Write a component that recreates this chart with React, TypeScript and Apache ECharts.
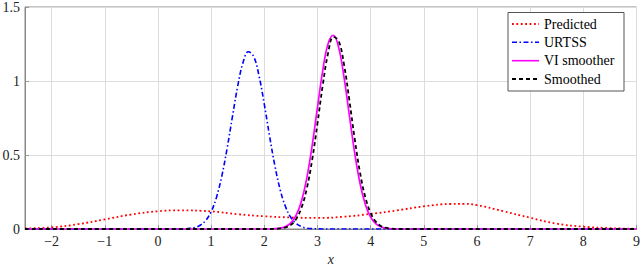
import React, { useEffect, useRef } from "react";
import * as echarts from "echarts";

const xTicks = [-2, -1, 0, 1, 2, 3, 4, 5, 6, 7, 8, 9];
const yTicks = [0, 0.5, 1, 1.5];

const legendNames = ["Predicted", "URTSS", "VI smoother", "Smoothed"];

const predX = [-2.5, -2, -1.5, -1, -0.5, 0, 0.4, 1, 1.5, 2, 2.5, 3, 3.5, 4, 4.5, 5, 5.5, 5.75, 6, 6.5, 7, 7.5, 8, 8.5, 9];
const predY = [0.004, 0.011, 0.033, 0.065, 0.098, 0.12, 0.126, 0.119, 0.1, 0.086, 0.078, 0.075, 0.083, 0.102, 0.126, 0.153, 0.169, 0.17, 0.161, 0.12, 0.076, 0.036, 0.016, 0.006, 0.001];

const urtssX = [-2.5, 0.4, 0.5, 0.6, 0.7, 0.8, 0.9, 1.0, 1.1, 1.2, 1.3, 1.4, 1.5, 1.6, 1.7, 1.8, 1.9, 2.0, 2.1, 2.2, 2.3, 2.4, 2.5, 2.6, 2.7, 2.8, 2.9, 3.0, 3.1, 9];
const urtssY = [0, 0, 0.001, 0.004, 0.011, 0.027, 0.058, 0.116, 0.213, 0.356, 0.543, 0.757, 0.965, 1.124, 1.198, 1.166, 1.037, 0.843, 0.627, 0.426, 0.264, 0.15, 0.078, 0.037, 0.016, 0.006, 0.002, 0.001, 0, 0];

const viX = [-2.5, 2.0, 2.1, 2.2, 2.3, 2.4, 2.5, 2.6, 2.7, 2.8, 2.9, 3.0, 3.1, 3.2, 3.3, 3.4, 3.5, 3.6, 3.7, 3.8, 3.9, 4.0, 4.1, 4.2, 4.3, 4.4, 4.5, 9];
const viY = [0, 0, 0, 0.002, 0.006, 0.016, 0.041, 0.093, 0.189, 0.345, 0.563, 0.821, 1.072, 1.252, 1.309, 1.225, 1.025, 0.768, 0.515, 0.309, 0.166, 0.08, 0.034, 0.013, 0.005, 0.001, 0, 0];

const smX = [-2.5, 2.0, 2.1, 2.2, 2.3, 2.4, 2.5, 2.6, 2.7, 2.8, 2.9, 3.0, 3.1, 3.2, 3.3, 3.4, 3.5, 3.6, 3.7, 3.8, 3.9, 4.0, 4.1, 4.2, 4.3, 4.4, 4.5, 9];
const smY = [0, 0, 0, 0.001, 0.004, 0.011, 0.028, 0.068, 0.144, 0.274, 0.467, 0.713, 0.973, 1.188, 1.298, 1.27, 1.111, 0.87, 0.61, 0.382, 0.215, 0.108, 0.048, 0.019, 0.007, 0.002, 0, 0];

const FONT = "Liberation Serif";

const zip = (xs: number[], ys: number[]) => xs.map((x, i) => [x, ys[i]]);

export default function App() {
  const ref = useRef<HTMLDivElement>(null);
  useEffect(() => {
    if (!ref.current) return;
    const chart = echarts.init(ref.current, undefined, { renderer: "svg" });
    const fmt = (v: number) => String(v).replace("-", "\u2212");
    const legendStyles = [
      { stroke: "#ff0000", lineDash: [1.8, 2.6], lineWidth: 1.8 },
      { stroke: "#0000ff", lineDash: [5, 2.5, 1.5, 2.5], lineWidth: 1.6 },
      { stroke: "#ff00ff", lineDash: null as any, lineWidth: 1.6 },
      { stroke: "#000000", lineDash: [4, 3], lineWidth: 1.8 },
    ];
    const lx = 508, ly = 12.5, lw = 116, lh = 78.5;
    const rows = [24, 42.3, 60.7, 79];
    const legendEls: any[] = [
      {
        type: "rect",
        shape: { x: lx, y: ly, width: lw, height: lh },
        style: { fill: "#fff", stroke: "#555", lineWidth: 1 },
        z: 100,
      },
    ];
    legendNames.forEach((n, i) => {
      legendEls.push({
        type: "line",
        shape: { x1: 512, y1: rows[i], x2: 539, y2: rows[i] },
        style: { ...legendStyles[i] },
        z: 101,
      });
      legendEls.push({
        type: "text",
        x: 544,
        y: rows[i],
        style: {
          text: n,
          fontFamily: FONT,
          fontSize: 14,
          fill: "#000",
          verticalAlign: "middle",
        },
        z: 101,
      });
    });
    chart.setOption({
      animation: false,
      textStyle: { fontFamily: FONT },
      grid: {
        left: 25,
        right: 3.5,
        top: 7,
        bottom: 36,
        show: true,
        borderColor: "#888",
        borderWidth: 1,
        containLabel: false,
        outerBoundsMode: "none",
      },
      xAxis: {
        type: "value",
        min: -2.5,
        max: 9,
        interval: 1,
        name: "x",
        nameLocation: "middle",
        nameGap: 16,
        nameTextStyle: { fontFamily: FONT, fontStyle: "italic", fontSize: 14, color: "#222" },
        axisLine: { show: true, onZero: false, lineStyle: { color: "#888", width: 1 } },
        axisTick: { show: true, inside: true, length: 4, customValues: xTicks, lineStyle: { color: "#999" } },
        axisLabel: { show: true, customValues: xTicks, formatter: fmt, fontFamily: FONT, fontSize: 14, color: "#222", margin: 5 },
        splitLine: { show: true, lineStyle: { color: "#dcdcdc", width: 1 } },
      },
      yAxis: {
        type: "value",
        min: 0,
        max: 1.5,
        interval: 0.5,
        axisLine: { show: true, onZero: false, lineStyle: { color: "#888", width: 1 } },
        axisTick: { show: true, inside: true, length: 4, customValues: yTicks, lineStyle: { color: "#999" } },
        axisLabel: { show: true, customValues: yTicks, formatter: fmt, fontFamily: FONT, fontSize: 14, color: "#222", margin: 5 },
        splitLine: { show: true, lineStyle: { color: "#dcdcdc", width: 1 } },
      },
      graphic: legendEls,
      series: [
        {
          name: legendNames[0],
          type: "line",
          data: zip(predX, predY),
          smooth: true,
          showSymbol: false,
          symbol: "none",
          lineStyle: { color: "#ff0000", width: 1.8, type: [1.8, 2.6] },
          z: 2,
        },
        {
          name: legendNames[1],
          type: "line",
          data: zip(urtssX, urtssY),
          smooth: 0.4,
          showSymbol: false,
          symbol: "none",
          lineStyle: { color: "#0000ff", width: 1.6, type: [5, 2.5, 1.5, 2.5] },
          z: 3,
        },
        {
          name: legendNames[2],
          type: "line",
          data: zip(viX, viY),
          smooth: 0.4,
          showSymbol: false,
          symbol: "none",
          lineStyle: { color: "#ff00ff", width: 1.7, type: "solid" },
          z: 4,
        },
        {
          name: legendNames[3],
          type: "line",
          data: zip(smX, smY),
          smooth: 0.4,
          showSymbol: false,
          symbol: "none",
          lineStyle: { color: "#000000", width: 1.8, type: [4, 3] },
          z: 5,
        },
      ],
    });
    return () => chart.dispose();
  }, []);
  return (
    <div
      ref={ref}
      style={{ position: "fixed", left: 0, top: 0, width: 640, height: 265, background: "#fff" }}
    />
  );
}
